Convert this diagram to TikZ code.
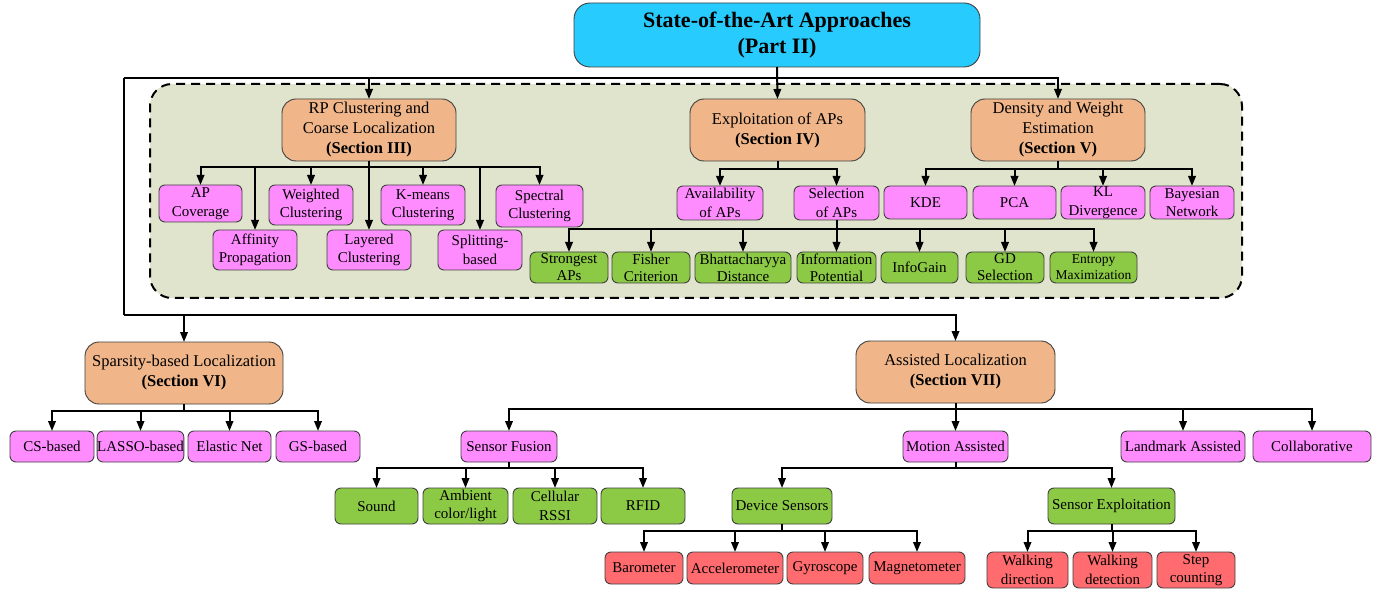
\documentclass[tikz,border=0pt]{standalone}
\usepackage{fontspec}
\setmainfont{Liberation Serif}
\usetikzlibrary{arrows.meta}
\definecolor{cyanc}{HTML}{27CBFE}
\definecolor{orangec}{HTML}{F0B68A}
\definecolor{pinkc}{HTML}{FF8CFF}
\definecolor{greenc}{HTML}{8CCA45}
\definecolor{redc}{HTML}{FF6B6E}
\definecolor{bgc}{HTML}{E0E4CC}
\tikzset{
  base/.style={draw=black!75, line width=0.9pt, rounded corners=6pt, align=center, inner sep=0pt, outer sep=0pt, font=\fontsize{15}{18.5}\selectfont},
  pinkbox/.style={base, fill=pinkc},
  greenbox/.style={base, fill=greenc},
  greenlow/.style={base, fill=greenc, font=\fontsize{15}{17}\selectfont},
  redbox/.style={base, fill=redc},
  secbox/.style={base, fill=orangec, rounded corners=14pt, font=\fontsize{16.5}{20}\selectfont},
  titlebox/.style={base, fill=cyanc, rounded corners=16pt, font=\bfseries\fontsize{22}{26}\selectfont},
  dashbox/.style={draw=black, fill=bgc, line width=2pt, dash pattern=on 9pt off 6pt, rounded corners=22pt},
  arr/.style={line width=2pt, -{Triangle[length=10pt,width=7.5pt]}},
  ln/.style={line width=2pt},
}
\newcommand\bx[7]{\node[#1,minimum width={#5-#3},minimum height={#6-#4}] (#2) at ({(#3+#5)/2},{(#4+#6)/2}) {#7};}
\begin{document}
\begin{tikzpicture}[x=1pt,y=-1pt]
\useasboundingbox[fill=white] (0,0) rectangle (1391,593);
\bx{dashbox}{grp}{150}{84}{1242}{298}{}
% title and sections
\bx{titlebox}{title}{574}{3}{980}{67}{State-of-the-Art Approaches\\(Part II)}
\bx{secbox}{rp}{282}{99}{456}{161}{RP Clustering and\\Coarse Localization\\\textbf{(Section III)}}
\bx{secbox}{expl}{690}{99}{865}{161}{Exploitation of APs\\\textbf{(Section IV)}}
\bx{secbox}{dens}{971}{99}{1145}{161}{Density and Weight\\Estimation\\\textbf{(Section V)}}
% RP children
\bx{pinkbox}{apc}{159}{185}{242}{222}{AP\\Coverage}
\bx{pinkbox}{aff}{213}{230}{297}{270}{Affinity\\Propagation}
\bx{pinkbox}{wcl}{269}{185}{353}{225}{Weighted\\Clustering}
\bx{pinkbox}{lcl}{327}{230}{411}{270}{Layered\\Clustering}
\bx{pinkbox}{kcl}{381}{185}{465}{225}{K-means\\Clustering}
\bx{pinkbox}{spl}{438}{230}{522}{270}{Splitting-\\based}
\bx{pinkbox}{scl}{496}{185}{583}{227}{Spectral\\Clustering}
% Exploitation children
\bx{pinkbox}{avail}{677}{186}{763}{220}{Availability\\of APs}
\bx{pinkbox}{sel}{794}{186}{879}{220}{Selection\\of APs}
\bx{greenlow}{str}{530}{252}{608}{283}{Strongest\\APs}
\bx{greenlow}{fis}{612}{252}{690}{283}{Fisher\\Criterion}
\bx{greenlow}{bha}{695}{252}{791}{283}{Bhattacharyya\\Distance}
\bx{greenlow}{inf}{797}{252}{876}{283}{Information\\Potential}
\bx{greenlow}{ig}{881}{252}{958}{283}{InfoGain}
\bx{greenlow}{gd}{966}{252}{1044}{283}{GD\\Selection}
\bx{greenlow,font=\fontsize{13.5}{16}\selectfont}{ent}{1050}{252}{1137}{283}{Entropy\\Maximization}
% Density children
\bx{pinkbox}{kde}{884}{186}{967}{219}{KDE}
\bx{pinkbox}{pca}{973}{186}{1056}{219}{PCA}
\bx{pinkbox}{kl}{1061}{186}{1145}{219}{KL\\Divergence}
\bx{pinkbox}{bay}{1150}{186}{1234}{219}{Bayesian\\Network}
% Sparsity
\bx{secbox}{spa}{85}{342}{283}{404}{Sparsity-based Localization\\\textbf{(Section VI)}}
\bx{pinkbox}{cs}{10}{431}{94}{462}{CS-based}
\bx{pinkbox}{las}{98}{431}{183}{462}{LASSO-based}
\bx{pinkbox}{ela}{188}{431}{271}{462}{Elastic Net}
\bx{pinkbox}{gs}{276}{431}{360}{462}{GS-based}
% Assisted
\bx{secbox}{asl}{856}{341}{1055}{403}{Assisted Localization\\\textbf{(Section VII)}}
\bx{pinkbox}{sf}{461}{431}{557}{462}{Sensor Fusion}
\bx{pinkbox}{ma}{903}{431}{1008}{462}{Motion Assisted}
\bx{pinkbox}{la}{1121}{431}{1245}{462}{Landmark Assisted}
\bx{pinkbox}{col}{1253}{431}{1371}{462}{Collaborative}
\bx{greenbox}{snd}{335}{488}{418}{524}{Sound}
\bx{greenbox}{amb}{423}{488}{508}{524}{Ambient\\color/light}
\bx{greenbox}{cel}{513}{488}{597}{524}{Cellular\\RSSI}
\bx{greenbox}{rfid}{601}{488}{685}{524}{RFID}
\bx{greenbox}{ds}{732}{488}{832}{524}{Device Sensors}
\bx{greenbox}{se}{1048}{488}{1175}{524}{Sensor Exploitation}
\bx{redbox}{baro}{605}{552}{683}{584}{Barometer}
\bx{redbox}{acc}{687}{552}{783}{584}{Accelerometer}
\bx{redbox}{gyro}{787}{552}{863}{584}{Gyroscope}
\bx{redbox}{mag}{869}{552}{965}{584}{Magnetometer}
\bx{redbox}{wdir}{987}{552}{1068}{588}{Walking\\direction}
\bx{redbox}{wdet}{1073}{552}{1152}{588}{Walking\\detection}
\bx{redbox}{step}{1157}{552}{1235}{588}{Step\\counting}
% connectors from title
\coordinate (tl) at (124,78);
\coordinate (bl) at (124,315);
\draw[arr] (title.south) -- (expl.north);
\draw[ln] (tl) -- (dens.north |- tl);
\draw[arr] (tl) -| (rp.north);
\draw[arr] (title.south |- tl) -| (dens.north);
\draw[ln] (tl) -- (bl);
\draw[arr] (bl) -| (spa.north);
\draw[arr] (bl) -| (asl.north);
% trees
\foreach \c in {apc,aff,wcl,lcl,kcl,spl,scl} \draw[arr] (rp.south) -- ++(0,6) -| (\c.north);
\foreach \c in {avail,sel} \draw[arr] (expl.south) -- ++(0,8) -| (\c.north);
\foreach \c in {kde,pca,kl,bay} \draw[arr] (dens.south) -- ++(0,8) -| (\c.north);
\foreach \c in {str,fis,bha,inf,ig,gd,ent} \draw[arr] (sel.south) -- ++(0,9) -| (\c.north);
\foreach \c in {cs,las,ela,gs} \draw[arr] (spa.south) -- ++(0,7) -| (\c.north);
\foreach \c in {sf,ma,la,col} \draw[arr] (asl.south) -- ++(0,6) -| (\c.north);
\foreach \c in {snd,amb,cel,rfid} \draw[arr] (sf.south) -- ++(0,6) -| (\c.north);
\foreach \c in {ds,se} \draw[arr] (ma.south) -- ++(0,6) -| (\c.north);
\foreach \c in {baro,acc,gyro,mag} \draw[arr] (ds.south) -- ++(0,7) -| (\c.north);
\foreach \c in {wdir,wdet,step} \draw[arr] (se.south) -- ++(0,7) -| (\c.north);
\end{tikzpicture}
\end{document}
